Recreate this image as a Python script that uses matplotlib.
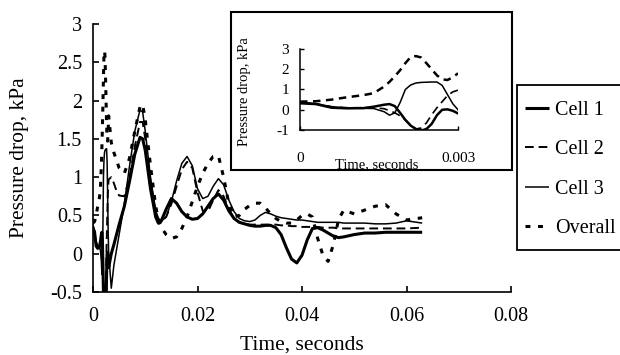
import numpy as np
import matplotlib
matplotlib.use("Agg")
import matplotlib.pyplot as plt
from matplotlib.patches import Rectangle

plt.rcParams['font.family'] = ['Liberation Serif', 'DejaVu Serif']

# ---------------- data ----------------
# early times (also shown in the inset), seconds
t_early = [0, 0.0003, 0.0006, 0.0009, 0.0012, 0.0014, 0.0016, 0.0017, 0.0018, 0.0019,
           0.0020, 0.0021, 0.0022, 0.0023, 0.0024, 0.0025, 0.0026, 0.0027, 0.0028,
           0.0029, 0.0030]
cell1_early = [0.32, 0.28, 0.10, 0.07, 0.08, 0.15, 0.25, 0.28, 0.18, -0.15,
               -0.50, -0.78, -0.95, -1.03, -0.95, -0.70, -0.27, 0.00, 0.02, -0.05, -0.18]
cell2_early = [0.35, 0.30, 0.15, 0.10, 0.10, 0.10, 0.05, -0.05, -0.15, -0.30,
               -0.50, -0.75, -0.95, -0.90, -0.65, -0.25, 0.10, 0.40, 0.70, 0.88, 0.97]
cell3_early = [0.38, 0.30, 0.15, 0.08, 0.07, 0.06, -0.10, -0.27, -0.15, 0.35,
               1.00, 1.22, 1.32, 1.35, 1.36, 1.37, 1.37, 1.20, 0.75, 0.30, 0.00]
overall_early = [0.40, 0.42, 0.50, 0.62, 0.72, 0.82, 1.15, 1.38, 1.65, 1.95,
                 2.30, 2.60, 2.65, 2.58, 2.30, 2.00, 1.70, 1.50, 1.47, 1.60, 1.80]

# later times, seconds
t_late = [0.0035, 0.004, 0.0045, 0.005, 0.006, 0.007, 0.008, 0.009, 0.0095, 0.010,
          0.011, 0.012, 0.0125, 0.013, 0.014, 0.015, 0.016, 0.017, 0.018, 0.019,
          0.020, 0.021, 0.022, 0.023, 0.024, 0.025, 0.026, 0.027, 0.028, 0.029,
          0.030, 0.031, 0.032, 0.033, 0.034, 0.035, 0.036, 0.037, 0.038, 0.039,
          0.040, 0.041, 0.042, 0.043, 0.044, 0.045, 0.046, 0.047, 0.048, 0.050,
          0.052, 0.054, 0.056, 0.058, 0.060, 0.063]
cell1_late = [0.00, 0.12, 0.25, 0.38, 0.62, 0.95, 1.30, 1.52, 1.50, 1.35,
              0.85, 0.48, 0.40, 0.42, 0.58, 0.72, 0.66, 0.55, 0.48, 0.45,
              0.46, 0.52, 0.62, 0.72, 0.78, 0.70, 0.56, 0.46, 0.41, 0.39,
              0.37, 0.36, 0.36, 0.37, 0.37, 0.34, 0.25, 0.08, -0.07, -0.12,
              -0.02, 0.18, 0.33, 0.34, 0.31, 0.27, 0.23, 0.21, 0.22, 0.25,
              0.27, 0.27, 0.28, 0.28, 0.28, 0.28]
cell2_late = [1.00, 0.92, 0.82, 0.76, 0.75, 1.00, 1.40, 1.72, 1.72, 1.50,
              0.95, 0.55, 0.46, 0.43, 0.48, 0.65, 0.88, 1.10, 1.20, 1.12,
              0.80, 0.56, 0.55, 0.70, 0.83, 0.75, 0.58, 0.46, 0.41, 0.39,
              0.38, 0.38, 0.38, 0.38, 0.38, 0.38, 0.37, 0.37, 0.36, 0.36,
              0.35, 0.35, 0.35, 0.35, 0.34, 0.34, 0.34, 0.33, 0.33, 0.33,
              0.33, 0.33, 0.33, 0.33, 0.33, 0.34]
cell3_late = [-0.45, -0.15, 0.05, 0.25, 0.65, 1.15, 1.60, 1.88, 1.85, 1.60,
              1.00, 0.55, 0.45, 0.42, 0.48, 0.68, 0.95, 1.18, 1.27, 1.15,
              0.85, 0.72, 0.75, 0.88, 0.98, 0.90, 0.70, 0.55, 0.46, 0.43,
              0.42, 0.44, 0.50, 0.54, 0.52, 0.49, 0.47, 0.46, 0.45, 0.44,
              0.44, 0.43, 0.42, 0.41, 0.41, 0.41, 0.41, 0.41, 0.40, 0.40,
              0.40, 0.39, 0.39, 0.40, 0.43, 0.40]
overall_late = [1.45, 1.32, 1.22, 1.12, 1.05, 1.25, 1.60, 1.92, 1.95, 1.75,
                1.15, 0.62, 0.45, 0.35, 0.25, 0.20, 0.22, 0.33, 0.48, 0.68,
                0.88, 1.05, 1.18, 1.27, 1.28, 1.00, 0.65, 0.48, 0.50, 0.58,
                0.63, 0.66, 0.66, 0.60, 0.52, 0.46, 0.42, 0.40, 0.40, 0.44,
                0.50, 0.52, 0.48, 0.20, -0.02, -0.10, 0.12, 0.45, 0.57, 0.52,
                0.57, 0.62, 0.64, 0.52, 0.44, 0.47]

series_names = ["Cell 1", "Cell 2", "Cell 3", "Overall"]

main_xticks = [0, 0.02, 0.04, 0.06, 0.08]
main_xticklabels = ["0", "0.02", "0.04", "0.06", "0.08"]
main_yticks = [-0.5, 0, 0.5, 1, 1.5, 2, 2.5, 3]
main_yticklabels = ["-0.5", "0", "0.5", "1", "1.5", "2", "2.5", "3"]
inset_xticks = [0, 0.003]
inset_xticklabels = ["0", "0.003"]
inset_yticks = [-1, 0, 1, 2, 3]
inset_yticklabels = ["-1", "0", "1", "2", "3"]

# ---------------- styles ----------------
W, H = 620, 355
styles = [
    dict(color="black", lw=2.2, ls="-"),
    dict(color="black", lw=1.4, ls=(0, (4.5, 2.5))),
    dict(color="black", lw=1.1, ls="-"),
    dict(color="black", lw=2.2, ls=(0, (1.6, 2.5))),
]

fig = plt.figure(figsize=(W / 100, H / 100), dpi=100)
ax = fig.add_axes([93 / W, 1 - 292 / H, (511 - 93) / W, (292 - 24) / H])

early = [cell1_early, cell2_early, cell3_early, overall_early]
late = [cell1_late, cell2_late, cell3_late, overall_late]
t_all = list(t_early) + list(t_late)
lines = []
for name, e, l, st in zip(series_names, early, late, styles):
    ln, = ax.plot(t_all, list(e) + list(l), label=name, solid_capstyle="butt",
                  dash_capstyle="butt", **st)
    lines.append(ln)

ax.set_xlim(0, 0.08)
ax.set_ylim(-0.5, 3)
ax.set_xticks(main_xticks)
ax.set_xticklabels(main_xticklabels)
ax.set_yticks(main_yticks)
ax.set_yticklabels(main_yticklabels)
for s in ["top", "right"]:
    ax.spines[s].set_visible(False)
for s in ["left", "bottom"]:
    ax.spines[s].set_linewidth(1.2)
ax.tick_params(axis="both", direction="in", length=4, width=1.2, labelsize=14.5)
ax.tick_params(axis="x", pad=11)
ax.tick_params(axis="y", pad=8)
ax.set_xlabel("Time, seconds", fontsize=15.5)
ax.xaxis.label.set_va("center")
ax.xaxis.set_label_coords(0.5, (292 - 345) / 268)
ax.set_ylabel("Pressure drop, kPa", fontsize=15.5)
ax.yaxis.label.set_va("center")
ax.yaxis.set_label_coords((20 - 93) / 418, 0.5)

# legend: box drawn as a rectangle, entries placed without frame
leg_box = Rectangle((517 / W, 1 - 250 / H), (630 - 517) / W, (250 - 85) / H,
                    transform=fig.transFigure, facecolor="white", edgecolor="black",
                    lw=1.3, zorder=1)
fig.patches.append(leg_box)
leg = fig.legend(handles=lines, labels=series_names, loc="upper left",
                 bbox_to_anchor=(525 / W, 1 - 101 / H), bbox_transform=fig.transFigure,
                 borderaxespad=0, fontsize=14.5, frameon=False, handlelength=1.2,
                 handletextpad=0.3, labelspacing=1.0, borderpad=0)
leg.set_zorder(3)

# inset frame
rect = Rectangle((231 / W, 1 - 170 / H), (512 - 231) / W, (170 - 12) / H,
                 transform=fig.transFigure, facecolor="white", edgecolor="black",
                 lw=1.5, zorder=1)
fig.patches.append(rect)

axi = fig.add_axes([300 / W, 1 - 130 / H, (458 - 300) / W, (130 - 49) / H], zorder=2)
inset_styles = [
    dict(color="black", lw=1.8, ls="-"),
    dict(color="black", lw=1.2, ls=(0, (5, 3))),
    dict(color="black", lw=1.1, ls="-"),
    dict(color="black", lw=1.8, ls=(0, (3, 2.2))),
]
for e, st in zip(early, inset_styles):
    axi.plot(t_early, e, dash_capstyle="butt", **st)
axi.set_xlim(0, 0.003)
axi.set_ylim(-1, 3)
axi.set_xticks(inset_xticks)
axi.set_xticklabels(inset_xticklabels)
axi.set_yticks(inset_yticks)
axi.set_yticklabels(inset_yticklabels)
for s in ["top", "right"]:
    axi.spines[s].set_visible(False)
for s in ["left", "bottom"]:
    axi.spines[s].set_linewidth(1.1)
axi.tick_params(axis="both", direction="in", length=3, width=1.0, labelsize=11)
axi.tick_params(axis="x", pad=16)
axi.tick_params(axis="y", pad=8)
axi.set_xlabel("Time, seconds", fontsize=10.5)
axi.xaxis.label.set_va("center")
axi.xaxis.set_label_coords((377 - 300) / 158, (130 - 165) / 81)
axi.set_ylabel("Pressure drop, kPa", fontsize=10.5)
axi.yaxis.label.set_va("center")
axi.yaxis.set_label_coords((245 - 300) / 158, (130 - 92) / 81)

fig.savefig("out.png", dpi=100)
